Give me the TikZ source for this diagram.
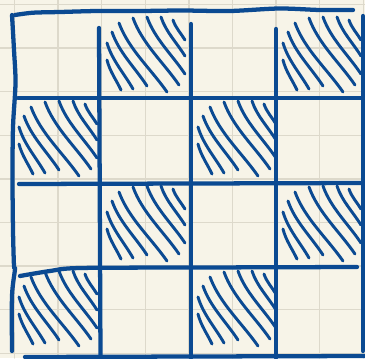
\documentclass[tikz,border=0pt]{standalone}
\definecolor{ink}{HTML}{0B4A92}
\definecolor{paper}{HTML}{F7F4E8}
\definecolor{gridc}{HTML}{DDD9CB}
\begin{document}
\begin{tikzpicture}[x=0.75pt,y=-0.75pt, line cap=round, line join=round,
  main/.style={ink, line width=3.2pt},
  hatch/.style={ink, line width=2.2pt},
  paperline/.style={gridc, line width=1pt}]
\fill[paper] (0,0) rectangle (365,358);
\useasboundingbox (0,0) rectangle (365,358);
\foreach \g in {0,...,8} {
  \draw[paperline] ({14.5+43.6*\g},0) -- ({14.5+43.6*\g},358);
  \draw[paperline] (0,{4.5+43.6*\g}) -- (365,{4.5+43.6*\g});
}
% hatching of the dark cells
\foreach \cx/\cy in {100/14, 276/14, 12/98, 191/98, 100/183, 276/183, 12/268, 191/268} {
  \begin{scope}[shift={(\cx,\cy)}]
    \foreach \a/\b/\c/\d in {7/46/21/76, 7/29/33/75, 12/18/47/72, 19/9/67/78, 33/4/79/71, 47/3/85/60, 61/3/85/42, 73/6/85/26} {
      \draw[hatch] (\a,\b) .. controls ({\a+0.2*(\c-\a)},{\b+0.38*(\d-\b)}) and ({\c-0.33*(\c-\a)},{\d-0.33*(\d-\b)}) .. (\c,\d);
    }
  \end{scope}
}
% board lines
\draw[main] plot[smooth] coordinates {(15,15) (33,12.7) (60,12) (97,11) (140,11) (182,10.5) (230,11) (279,8.5) (320,10) (353,10)};
\draw[main] plot[smooth] coordinates {(12,15) (14,50) (15.5,83) (13,127) (12.5,177) (13,230) (14,266) (15,269) (12,296) (12,351)};
\draw[main] (99,28) -- (100.5,358);
\draw[main] (191,24) -- (191,358);
\draw[main] (276,29) -- (276,358);
\draw[main] (363,16) -- (363,351);
\draw[main] (18,98) -- (365,98);
\draw[main] (19,184) -- (365,183);
\draw[main] plot[smooth] coordinates {(20,276) (50,271) (80,268) (200,267.5) (357,267)};
\draw[main] (25,357) -- (365,356);
\end{tikzpicture}
\end{document}
